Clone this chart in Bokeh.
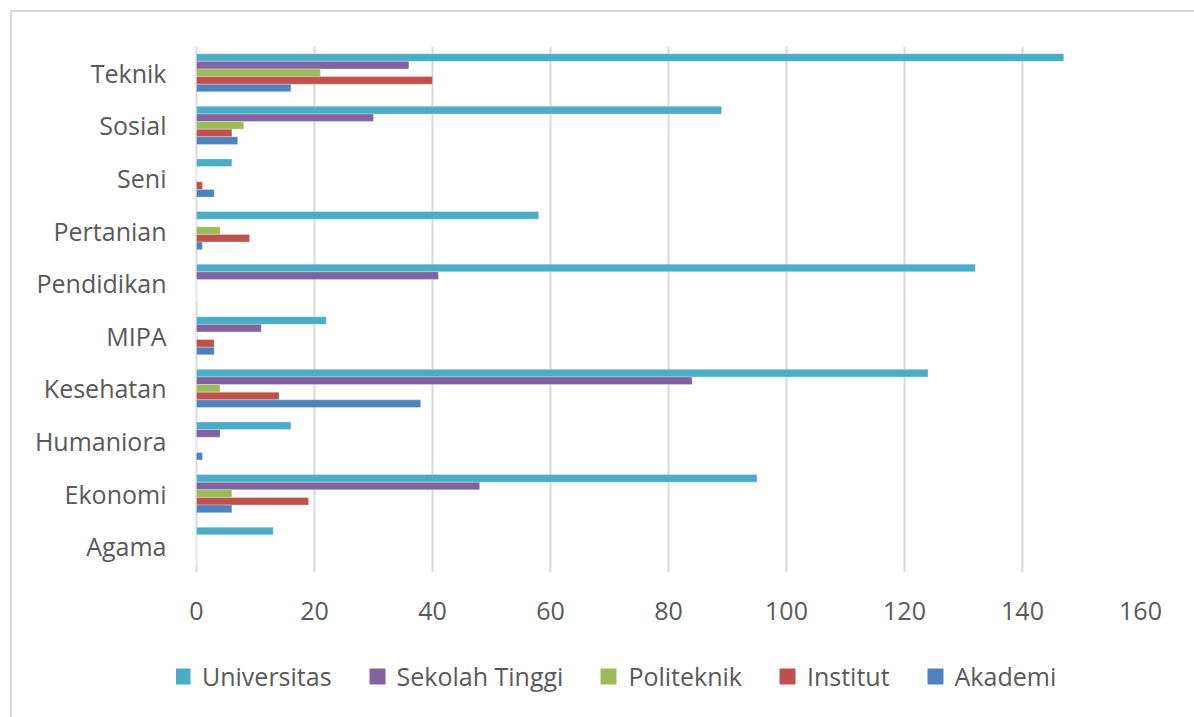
from bokeh.plotting import figure
from bokeh.layouts import column
from bokeh.models import Legend, LegendItem, FixedTicker
from bokeh.transform import dodge
from bokeh.embed import file_html
from bokeh.resources import INLINE

# Fields of study, bottom to top
bidang = ["Agama", "Ekonomi", "Humaniora", "Kesehatan", "MIPA",
          "Pendidikan", "Pertanian", "Seni", "Sosial", "Teknik"]

universitas    = [13, 95, 16, 124, 22, 132, 58, 6, 89, 147]
sekolah_tinggi = [0, 48, 4, 84, 11, 41, 0, 0, 30, 36]
politeknik     = [0, 6, 0, 4, 0, 0, 4, 0, 8, 21]
institut       = [0, 19, 0, 14, 3, 0, 9, 1, 6, 40]
akademi        = [0, 6, 1, 38, 3, 0, 1, 3, 7, 16]

series = [
    ("Universitas", universitas, "#4BACC6"),
    ("Sekolah Tinggi", sekolah_tinggi, "#8064A2"),
    ("Politeknik", politeknik, "#9BBB59"),
    ("Institut", institut, "#C0504D"),
    ("Akademi", akademi, "#4F81BD"),
]

x_ticks = [0, 20, 40, 60, 80, 100, 120, 140, 160]

TEXT = "#595959"
GRID = "#D9D9D9"
FONT = "Open Sans"

# frame starts a little left of zero so the legend strip lines up under it
X_START = -20 / 5.9

# ---- bar chart ----
p = figure(width=1182, height=640, y_range=bidang, x_range=(X_START, 160),
           output_backend="svg", toolbar_location=None,
           min_border_left=164, min_border_top=34,
           min_border_right=54, min_border_bottom=80)
p.outline_line_color = None
p.background_fill_color = "white"
p.border_fill_color = "white"

bar_h = 0.145
offsets = [2 * bar_h, bar_h, 0.0, -bar_h, -2 * bar_h]

data = {"bidang": bidang}
for name, vals, _ in series:
    data[name] = vals

for (name, vals, color), off in zip(series, offsets):
    p.hbar(y=dodge("bidang", off, range=p.y_range), right=name, left=0,
           height=bar_h, source=data, fill_color=color,
           line_color="white", line_width=0.6, line_alpha=0.5)

# x axis: labels only
p.xaxis.ticker = FixedTicker(ticks=x_ticks)
p.xaxis.axis_line_color = None
p.xaxis.major_tick_line_color = None
p.xaxis.minor_tick_line_color = None
p.xaxis.major_label_standoff = 23
p.xaxis.major_label_text_font = FONT
p.xaxis.major_label_text_font_size = "25px"
p.xaxis.major_label_text_color = TEXT

# category axis: the gridline at zero serves as its line
p.yaxis.axis_line_color = None
p.yaxis.major_tick_line_color = None
p.yaxis.minor_tick_line_color = None
p.yaxis.major_label_standoff = 4
p.yaxis.major_label_text_font = FONT
p.yaxis.major_label_text_font_size = "25px"
p.yaxis.major_label_text_color = TEXT

p.xgrid.grid_line_color = GRID
p.xgrid.grid_line_width = 2
p.ygrid.grid_line_color = None

# ---- legend strip ----
q = figure(width=1182, height=65, x_range=p.x_range, y_range=bidang,
           output_backend="svg", toolbar_location=None,
           x_axis_location=None, y_axis_location=None,
           min_border=0, min_border_left=0, min_border_right=0,
           min_border_top=0, min_border_bottom=0)
q.grid.visible = False
q.outline_line_color = None
q.background_fill_color = "white"
q.border_fill_color = "white"

# square swatches: hidden scatter renderers supply the legend glyphs
items = []
for name, vals, color in series:
    r = q.scatter(x=name, y="bidang", marker="square", size=16, source=data,
                  fill_color=color, line_color=None, visible=False)
    items.append(LegendItem(label=name, renderers=[r]))

legend = Legend(items=items, orientation="horizontal", location=(-14, 21),
                label_text_font=FONT, label_text_font_size="25px",
                label_text_color=TEXT, glyph_width=40, glyph_height=40,
                label_standoff=-4, spacing=25, padding=0, margin=0,
                border_line_color=None, background_fill_alpha=0,
                inactive_fill_alpha=0)
q.add_layout(legend, "center")

layout = column(p, q, spacing=0, margin=(10, 0, 0, 10),
                styles={"border-left": f"2px solid {GRID}",
                        "border-top": f"2px solid {GRID}"})

open("out.html", "w").write(file_html(layout, INLINE))
